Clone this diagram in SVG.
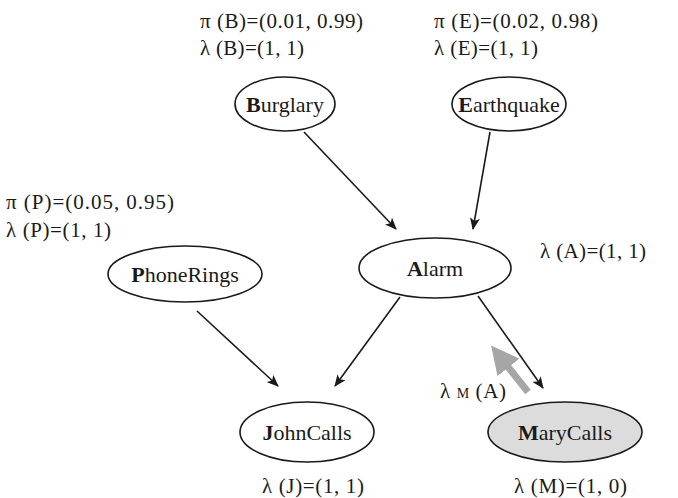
<svg xmlns="http://www.w3.org/2000/svg" width="678" height="498" viewBox="0 0 678 498">
  <defs>
    <marker id="arrow" viewBox="0 0 12 10" refX="11" refY="5" markerWidth="12" markerHeight="10" markerUnits="userSpaceOnUse" orient="auto">
      <path d="M0,0 L12,5 L0,10 L3,5 Z" fill="#1a1a1a"/>
    </marker>
    <marker id="grayhead" viewBox="0 0 10 10" refX="2" refY="5" markerWidth="4" markerHeight="4" orient="auto">
      <path d="M0,0 L10,5 L0,10 Z" fill="#a6a6a6"/>
    </marker>
  </defs>
  <style>
    text { font-family: "Liberation Serif", "Times New Roman", serif; fill: #1a1a1a; }
    .node { fill: #ffffff; stroke: #1a1a1a; stroke-width: 1.6; }
    .observed { fill: #dcdcdc; }
    .label { font-size: 22px; text-anchor: middle; }
    .param { font-size: 21px; }
    .edge { stroke: #1a1a1a; stroke-width: 1.6; fill: none; marker-end: url(#arrow); }
  </style>
  <rect width="678" height="498" fill="#ffffff"/>

  <!-- connectors -->
  <g id="edges">
    <line class="edge" x1="304" y1="132" x2="396" y2="229"/>
    <line class="edge" x1="490" y1="132" x2="473" y2="229"/>
    <line class="edge" x1="400" y1="297" x2="335" y2="386"/>
    <line class="edge" x1="478" y1="296" x2="543" y2="388"/>
    <line class="edge" x1="197" y1="311" x2="278" y2="386"/>
    <line x1="528" y1="392" x2="505" y2="363" stroke="#a6a6a6" stroke-width="7" marker-end="url(#grayhead)"/>
  </g>

  <!-- nodes -->
  <g id="burglary">
    <ellipse class="node" cx="285" cy="104" rx="50" ry="27"/>
    <text class="label" x="285" y="112"><tspan font-weight="bold">B</tspan>urglary</text>
  </g>
  <g id="earthquake">
    <ellipse class="node" cx="509" cy="104" rx="57" ry="27"/>
    <text class="label" x="509" y="112"><tspan font-weight="bold">E</tspan>arthquake</text>
  </g>
  <g id="alarm">
    <ellipse class="node" cx="435" cy="268" rx="76" ry="30"/>
    <text class="label" x="435" y="276"><tspan font-weight="bold">A</tspan>larm</text>
  </g>
  <g id="phonerings">
    <ellipse class="node" cx="185" cy="274" rx="77" ry="28"/>
    <text class="label" x="185" y="282"><tspan font-weight="bold">P</tspan>honeRings</text>
  </g>
  <g id="johncalls">
    <ellipse class="node" cx="307" cy="432" rx="67" ry="30"/>
    <text class="label" x="307" y="440"><tspan font-weight="bold">J</tspan>ohnCalls</text>
  </g>
  <g id="marycalls">
    <ellipse class="node observed" cx="565" cy="432" rx="77" ry="30"/>
    <text class="label" x="565" y="440"><tspan font-weight="bold">M</tspan>aryCalls</text>
  </g>

  <!-- parameters -->
  <g id="params">
    <text class="param" x="200" y="28" textLength="163" lengthAdjust="spacing">π (B)=(0.01, 0.99)</text>
    <text class="param" x="200" y="55" textLength="104" lengthAdjust="spacing">λ (B)=(1, 1)</text>
    <text class="param" x="434" y="28" textLength="164" lengthAdjust="spacing">π (E)=(0.02, 0.98)</text>
    <text class="param" x="434" y="55" textLength="104" lengthAdjust="spacing">λ (E)=(1, 1)</text>
    <text class="param" x="6" y="209" textLength="168" lengthAdjust="spacing">π (P)=(0.05, 0.95)</text>
    <text class="param" x="6" y="237" textLength="105" lengthAdjust="spacing">λ (P)=(1, 1)</text>
    <text class="param" x="540" y="258" textLength="106" lengthAdjust="spacing">λ (A)=(1, 1)</text>
    <text class="param" x="440" y="398" textLength="66" lengthAdjust="spacing">λ <tspan font-size="14">M</tspan> (A)</text>
    <text class="param" x="262" y="493" textLength="102" lengthAdjust="spacing">λ (J)=(1, 1)</text>
    <text class="param" x="514" y="493" textLength="113" lengthAdjust="spacing">λ (M)=(1, 0)</text>
  </g>
</svg>
